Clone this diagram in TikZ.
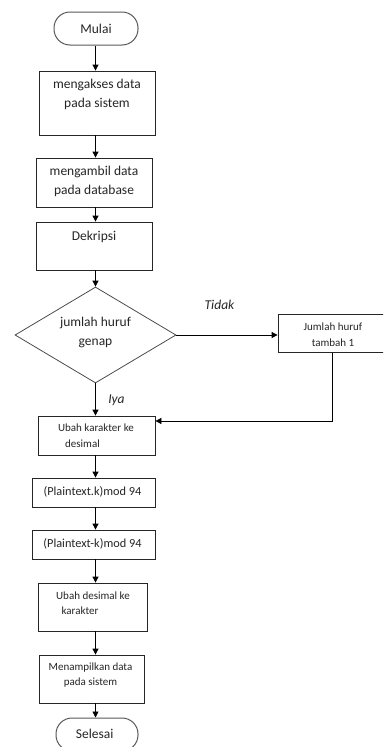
\documentclass[tikz,border=0pt]{standalone}
\usepackage{fontspec}
\setmainfont{Carlito}
\usetikzlibrary{arrows.meta,shapes.geometric,calc}
\begin{document}
\begin{tikzpicture}[x=1pt,y=-1pt,
  box/.style={draw=black!85,line width=0.8pt,inner sep=0pt},
  term/.style={draw=black!65,line width=1pt,rounded corners=16pt,inner sep=0pt},
  dia/.style={diamond,draw=black!70,line width=0.8pt,inner sep=0pt},
  txt/.style={align=center,inner sep=0pt,text=black!85,font=\fontsize{13.5}{19}\selectfont},
  stxt/.style={align=center,inner sep=0pt,text=black!85,font=\fontsize{11}{15.5}\selectfont},
  mtxt/.style={align=center,inner sep=0pt,text=black!85,font=\fontsize{12.3}{16}\selectfont},
  lbl/.style={inner sep=0pt,text=black!85,font=\fontsize{13.5}{16}\selectfont\itshape},
  arr/.style={draw=black,line width=0.8pt,-{Triangle[length=6pt,width=6pt]}},
  ln/.style={draw=black,line width=0.8pt}]
\useasboundingbox (0,0) rectangle (383,747);
\clip (0,0) rectangle (383,747);
\fill[white] (0,0) rectangle (383,747);

% shapes
\node[term,minimum width=84pt,minimum height=33pt] (start) at (96,28.5) {};
\node[txt] (tstart) at (96,29) {Mulai};

\node[box,minimum width=116pt,minimum height=64pt] (b1) at (97,103) {};
\node[txt] (t1) at (97,94.5) {mengakses data\\pada sistem};

\node[box,minimum width=116pt,minimum height=49pt] (b2) at (94,182.5) {};
\node[txt] (t2) at (94,181) {mengambil data\\pada database};

\node[box,minimum width=116pt,minimum height=48pt] (b3) at (94,246) {};
\node[txt] (t3) at (94,237) {Dekripsi};

\node[dia,minimum width=161pt,minimum height=96pt] (d) at (95.5,335) {};
\node[txt] (td) at (95.5,332) {jumlah huruf\\genap};

\node[box,minimum width=108pt,minimum height=38pt] (rbox) at (332,333.5) {};
\node[stxt] (tr) at (333,334.5) {Jumlah huruf\\tambah 1};

\node[box,minimum width=117pt,minimum height=39pt] (b4) at (96.5,435.5) {};
\node[stxt] (t4) at (96,435.5) {Ubah karakter ke\\desimal\hspace*{27pt}};

\node[box,minimum width=123pt,minimum height=29pt] (b5) at (93.5,492.5) {};
\node[mtxt] (t5) at (92.5,492) {(Plaintext.k)mod 94};

\node[box,minimum width=123pt,minimum height=29pt] (b6) at (93.5,544.5) {};
\node[mtxt] (t6) at (92.5,543.5) {(Plaintext-k)mod 94};

\node[box,minimum width=109pt,minimum height=48pt] (b7) at (92.5,607) {};
\node[stxt] (t7) at (93,603) {Ubah desimal ke\\karakter\hspace*{26pt}};

\node[box,minimum width=105pt,minimum height=48pt] (b8) at (91.5,679) {};
\node[stxt] (t8) at (90.5,675) {Menampilkan data\\pada sistem};

\node[term,minimum width=82pt,minimum height=33pt] (end) at (97,734.5) {};
\node[txt] (tend) at (94.7,734) {Selesai};

\node[lbl] (tidak) at (219.5,305) {Tidak};
\node[lbl] (iya) at (116.5,400) {Iya};

% connectors
\draw[arr] (start.south -| d.center) -- (b1.north -| d.center);
\draw[arr] (b1.south -| d.center) -- (b2.north -| d.center);
\draw[arr] (b2.south -| d.center) -- (b3.north -| d.center);
\draw[arr] (b3.south -| d.center) -- (d.north);
\draw[arr] (d.south) -- (b4.north -| d.center);
\draw[arr] (d.east) -- (d.east -| rbox.west);
\coordinate (j) at (332,421);
\draw[arr] (rbox.south) -- (rbox.south |- j) -- (j -| b4.east);
\draw[arr] (b4.south -| d.center) -- (b5.north -| d.center);
\draw[arr] (b5.south -| d.center) -- (b6.north -| d.center);
\draw[arr] (b6.south -| d.center) -- (b7.north -| d.center);
\draw[arr] (b7.south -| d.center) -- (b8.north -| d.center);
\draw[arr] (b8.south -| d.center) -- (end.north -| d.center);
\end{tikzpicture}
\end{document}
